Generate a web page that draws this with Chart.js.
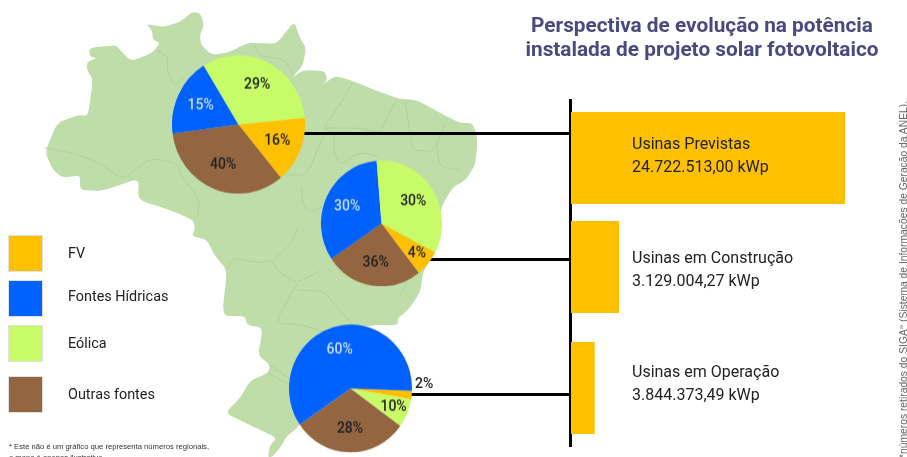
<!DOCTYPE html>
<html lang="pt-BR">
<head>
<meta charset="utf-8">
<title>Perspectiva de evolução na potência instalada</title>
<script src="https://cdn.jsdelivr.net/npm/chart.js@4"></script>
<style>
  html, body { margin: 0; padding: 0; background: #fff; }
  #stage { position: relative; width: 907px; height: 457px; overflow: hidden; font-family: Roboto, sans-serif; color: #222; filter: blur(0.35px); }
  #stage > * { position: absolute; }
  #map { left: 0; top: 0; }
  .title { left: 480px; top: 13px; width: 444px; text-align: center; font-size: 20.8px; font-weight: 700; line-height: 24px; color: #4a4a80; white-space: nowrap; }
  .pie { transform: scaleY(1.04); }
  .pie canvas { display: block; }
  .bar canvas { display: block; }
  .link { background: #000; height: 3px; }
  .axis { left: 568.5px; top: 99px; width: 3px; height: 348px; background: #000; }
  .barText { left: 632px; font-size: 16px; line-height: 22.5px; white-space: nowrap; color: #222; }
  .swatch { left: 9px; width: 33px; height: 35px; box-shadow: 0 0 0 1px rgba(170,170,170,.35); }
  .legendText { left: 68px; font-size: 14.4px; line-height: 18px; white-space: nowrap; }
  .pieOut { left: 415px; top: 375px; font-size: 14px; font-weight: 500; line-height: 16px; }
  .note { left: 9px; top: 441px; font: 7.65px/11px "Liberation Sans", Arial, sans-serif; color: #333; white-space: nowrap; }
  .source { left: 902px; top: 458px; transform-origin: 0 0; transform: rotate(-90deg) translateY(-6px); font: 10.3px/12px "Liberation Sans", Arial, sans-serif; color: #666; white-space: nowrap; }
  .source sup { font-size: 4px; }
</style>
</head>
<body>
<div id="stage">
  <svg id="map" width="907" height="457" viewBox="0 0 907 457">
    <path class="outline" fill="#bfdda9" d="M89 48 L116 45 L122 52 L131 61 L145 56 L153 52 L160 43 L153 40 L152 30 L146 24 L163 27 L180 22 L192 12 L200 13 L204 25 L200 35 L201 45 L212 55 L230 52 L247 43 L258 43 L277 44 L294 21 L300 38 L306 48 L303 65 L292 78 L303 70 L325 71 L327 80 L322 85 L335 76 L350 80 L380 92 L400 99 L417 100 L440 113 L460 123 L472 123 L477 135 L477 150 L475 165 L466 180 L453 187 L441 207 L437 245 L428 263 L423 273 L420 293 L408 310 L398 318 L398 325 L372 325 L350 330 L300 423 L297 428 L287 436 L280 448 L272 457 L268 457 L270 445 L277 438 L250 425 L225 413 L240 398 L250 381 L268 373 L270 365 L258 355 L263 328 L247 325 L245 316 L222 316 L227 270 L215 256 L207 240 L192 236 L195 228 L193 220 L170 210 L138 200 L139 178 L103 191 L80 190 L80 175 L63 178 L53 170 L45 152 L57 123 L78 115 L88 116 L93 80 L87 70 L87 62 L97 58 L90 57 Z"/>
    <g fill="none" stroke="#b0d19d" stroke-width="1">
      <path d="M157 50 L168 57 L167 70 L175 87 L183 77"/>
      <path d="M255 45 L258 55 L285 60 L294 76"/>
      <path d="M352 83 L343 100 L323 128 L335 133 L333 150 L340 165 L360 152 L378 156"/>
      <path d="M397 100 L387 117 L380 133 L360 128 L325 128"/>
      <path d="M405 102 L410 133 L413 150 L433 152 L445 125"/>
      <path d="M445 125 L436 145 L440 167 L460 170"/>
      <path d="M45 148 L73 153 L100 163 L123 180 L150 158 L177 163 L182 177 L200 200 L197 217"/>
      <path d="M282 175 L307 175 L323 137"/>
      <path d="M302 187 L302 203 L310 213 L322 207"/>
      <path d="M227 270 L233 258 L260 263 L273 260 L277 271 L297 283 L320 271"/>
      <path d="M298 283 L293 291 L275 323 L303 325 L333 335"/>
      <path d="M298 290 L323 291 L338 308 L353 325"/>
      <path d="M298 228 L290 245 L273 260"/>
      <path d="M270 365 L293 381"/>
      <path d="M268 373 L290 385"/>
      <path d="M400 296 L410 275 L420 270"/>
    </g>
  </svg>

  <div class="link" style="left:304px;top:132px;width:266px"></div>
  <div class="link" style="left:428px;top:258px;width:142px"></div>
  <div class="link" style="left:410px;top:393px;width:160px"></div>
  <div class="axis"></div>

  <div class="pie" style="left:172px;top:57.5px;width:133px;height:133px"><canvas id="pieForecast" width="133" height="133"></canvas></div>
  <div class="pie" style="left:321px;top:163px;width:121px;height:121px"><canvas id="pieBuilding" width="121" height="121"></canvas></div>
  <div class="pie" style="left:289px;top:327px;width:123px;height:123px"><canvas id="pieRunning" width="123" height="123"></canvas></div>
  <div class="pieOut" id="pieOutLabel"></div>

  <div class="bar" style="left:571.4px;top:112px;width:274px;height:92px"><canvas id="barForecast" width="274" height="92"></canvas></div>
  <div class="bar" style="left:571.4px;top:221px;width:274px;height:92px"><canvas id="barBuilding" width="274" height="92"></canvas></div>
  <div class="bar" style="left:571.4px;top:342px;width:274px;height:92px"><canvas id="barRunning" width="274" height="92"></canvas></div>

  <div class="barText" style="top:133px">Usinas Previstas<br>24.722.513,00 kWp</div>
  <div class="barText" style="top:247px">Usinas em Construção<br>3.129.004,27 kWp</div>
  <div class="barText" style="top:361px">Usinas em Operação<br>3.844.373,49 kWp</div>

  <div class="title">Perspectiva de evolução na potência<br>instalada de projeto solar fotovoltaico</div>

  <div class="swatch" style="top:235.5px;background:#ffc000"></div>
  <div class="swatch" style="top:280.5px;background:#0061ff"></div>
  <div class="swatch" style="top:325.5px;background:#c8fb68"></div>
  <div class="swatch" style="top:377px;background:#936641"></div>
  <div class="legendText" style="top:245px">FV</div>
  <div class="legendText" style="top:288px">Fontes Hídricas</div>
  <div class="legendText" style="top:335px">Eólica</div>
  <div class="legendText" style="top:386px">Outras fontes</div>

  <div class="note">* Este não é um gráfico que representa números regionais,<br>o mapa é apenas ilustrativo.</div>
  <div class="source">*números retirados do SIGA<sup>29</sup> (Sistema de Informações de Geração da ANEL).</div>
</div>

<script>
// Slices are listed clockwise. "Drawn" = wedge size measured on the picture (%),
// "Printed" = the label the picture shows on it; the original's two don't agree.
const forecastSources = ['FV', 'Outras fontes', 'Fontes Hídricas', 'Eólica'];
const forecastDrawn = [15.6, 33.9, 18.3, 32.2];
const forecastPrinted = ['16%', '40%', '15%', '29%'];

const buildingSources = ['FV', 'Outras fontes', 'Fontes Hídricas', 'Eólica'];
const buildingDrawn = [6.8, 26.1, 33.2, 33.9];
const buildingPrinted = ['4%', '36%', '30%', '30%'];

const runningSources = ['FV', 'Eólica', 'Outras fontes', 'Fontes Hídricas'];
const runningDrawn = [2.2, 7.2, 30.5, 60.1];
const runningPrinted = ['2%', '10%', '28%', '60%'];

// Bar lengths as drawn, in kWp on the scale of the top bar. The short two don't
// follow their printed totals in the original (Construção is the longer one).
const barCategories = ['Usinas Previstas', 'Usinas em Construção', 'Usinas em Operação'];
const barDrawn = [24722513, 4300000, 2110000];

const sourceColors = {
  'FV': '#ffc000',
  'Fontes Hídricas': '#0061ff',
  'Eólica': '#c8fb68',
  'Outras fontes': '#936641'
};

// Round off the corners of the traced map without losing its sharper features
document.querySelectorAll('#map path').forEach(path => {
  const pts = path.getAttribute('d').match(/[\d.]+ [\d.]+/g).map(p => p.split(' ').map(Number));
  const closed = path.classList.contains('outline');
  const lerp = (a, b, t) => `${a[0] + (b[0] - a[0]) * t} ${a[1] + (b[1] - a[1]) * t}`;
  const n = pts.length;
  let d = closed ? `M${lerp(pts[0], pts[1], 0.3)}` : `M${pts[0][0]} ${pts[0][1]}`;
  const from = 1, to = closed ? n + 1 : n - 1;
  for (let i = from; i < to; i++) {
    const prev = pts[(i - 1) % n], cur = pts[i % n], next = pts[(i + 1) % n];
    d += ` L${lerp(prev, cur, 0.7)} Q${cur[0]} ${cur[1]} ${lerp(cur, next, 0.3)}`;
  }
  path.setAttribute('d', closed ? d + ' Z' : `${d} L${pts[n - 1][0]} ${pts[n - 1][1]}`);
});

// Draws the printed % on each wedge, tiny wedges further out
const sliceLabels = {
  id: 'sliceLabels',
  afterDatasetsDraw(chart, args, opts) {
    const ctx = chart.ctx;
    ctx.save();
    ctx.font = '500 14px Roboto';
    ctx.textAlign = 'center';
    ctx.textBaseline = 'middle';
    chart.getDatasetMeta(0).data.forEach((arc, i) => {
      const share = chart.data.datasets[0].data[i];
      if (share < 3) return; // label sits outside the canvas
      const mid = (arc.startAngle + arc.endAngle) / 2;
      const dist = arc.outerRadius * (share < 8 ? 0.76 : 0.63);
      ctx.fillStyle = chart.data.labels[i] === 'Fontes Hídricas' ? '#c9dcf8' : '#222';
      ctx.fillText(opts.printed[i], arc.x + Math.cos(mid) * dist, arc.y + Math.sin(mid) * dist);
    });
    ctx.restore();
  }
};

function drawPie(id, sources, drawn, printed, rotation) {
  new Chart(document.getElementById(id), {
    type: 'pie',
    data: {
      labels: sources,
      datasets: [{ data: drawn, backgroundColor: sources.map(s => sourceColors[s]), borderWidth: 0 }]
    },
    options: {
      responsive: false,
      animation: false,
      rotation: rotation,
      layout: { padding: 0 },
      plugins: { legend: { display: false }, tooltip: { enabled: false }, sliceLabels: { printed: printed } }
    },
    plugins: [sliceLabels]
  });
}

function drawBar(id, i) {
  new Chart(document.getElementById(id), {
    type: 'bar',
    data: {
      labels: [barCategories[i]],
      datasets: [{ data: [barDrawn[i]], backgroundColor: '#ffc000', categoryPercentage: 1, barPercentage: 1 }]
    },
    options: {
      indexAxis: 'y',
      responsive: false,
      animation: false,
      layout: { padding: 0 },
      plugins: { legend: { display: false }, tooltip: { enabled: false } },
      scales: {
        x: { display: false, min: 0, max: barDrawn[0] },
        y: { display: false }
      }
    }
  });
}

drawPie('pieForecast', forecastSources, forecastDrawn, forecastPrinted, 84.3);
drawPie('pieBuilding', buildingSources, buildingDrawn, buildingPrinted, 117.4);
drawPie('pieRunning', runningSources, runningDrawn, runningPrinted, 92);
document.getElementById('pieOutLabel').textContent = runningPrinted[0];

barCategories.forEach((c, i) => drawBar(['barForecast', 'barBuilding', 'barRunning'][i], i));
</script>
</body>
</html>
